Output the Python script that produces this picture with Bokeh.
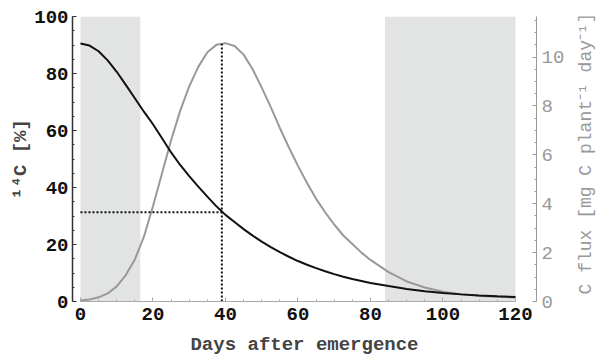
import math
from bokeh.plotting import figure
from bokeh.layouts import row
from bokeh.models import Range1d, LinearAxis, SingleIntervalTicker, Label
from bokeh.embed import file_html
from bokeh.resources import INLINE

# Data
days = [0, 2.5, 5, 7.5, 10, 12.5, 15, 17.5, 20, 22.5, 25, 27.5, 30, 32.5, 35,
        37.5, 40, 42.5, 45, 47.5, 50, 52.5, 55, 57.5, 60, 62.5, 65, 67.5, 70,
        72.5, 75, 77.5, 80, 85, 90, 95, 100, 105, 110, 115, 120]
c14_pct = [90.5, 89.8, 87.8, 84.6, 80.6, 76.0, 71.3, 66.6, 62.2, 57.3, 52.3,
           47.9, 44.0, 40.3, 36.8, 33.4, 30.4, 27.9, 25.4, 23.1, 21.0, 19.1,
           17.3, 15.7, 14.2, 12.9, 11.7, 10.6, 9.6, 8.7, 7.9, 7.2, 6.5, 5.4,
           4.4, 3.6, 3.0, 2.5, 2.1, 1.8, 1.6]
c_flux = [0.04, 0.08, 0.17, 0.33, 0.62, 1.08, 1.72, 2.65, 3.9, 5.25, 6.6, 7.8,
          8.8, 9.6, 10.2, 10.5, 10.57, 10.45, 10.1, 9.5, 8.75, 7.95, 7.1, 6.3,
          5.55, 4.85, 4.2, 3.65, 3.15, 2.7, 2.35, 2.0, 1.7, 1.2, 0.82, 0.57,
          0.4, 0.3, 0.23, 0.19, 0.16]
shade_left = [0, 84]
shade_right = [16.5, 120]
marker_day = 39
marker_pct = 31.3
marker_flux = 10.55
right_label = "C flux [mg C plant⁻¹ day⁻¹]"

FONT = "Liberation Mono"
GRAY = "#999999"

p = figure(width=567, height=358, output_backend="svg", toolbar_location=None,
           x_range=Range1d(-2.2, 125.8), y_range=Range1d(0, 100),
           min_border_left=72, min_border_right=30, min_border_top=16,
           min_border_bottom=54)
p.outline_line_color = None
p.xgrid.visible = False
p.ygrid.visible = False
p.background_fill_color = "white"
p.border_fill_color = "white"
p.extra_y_ranges = {"flux": Range1d(0, 11.66)}

# shaded periods
p.quad(left=shade_left, right=shade_right, bottom=0, top=100,
       fill_color="#e2e3e3", line_color=None)

# curves
p.line(days, c_flux, y_range_name="flux", line_color=GRAY, line_width=2)
p.line(days, c14_pct, line_color="#111111", line_width=2)

# dotted guides
p.line([marker_day, marker_day], [0, marker_flux], y_range_name="flux",
       line_color="#111111", line_width=2, line_dash="2 2")
p.line([0, marker_day], [marker_pct, marker_pct],
       line_color="#111111", line_width=2, line_dash="2 2")

# axes
xa = p.xaxis[0]
xa.ticker = SingleIntervalTicker(interval=20, num_minor_ticks=4)
xa.bounds = (0, 120)
xa.axis_label = "Days after emergence"
xa.axis_label_text_font = FONT
xa.axis_label_text_font_style = "bold"
xa.axis_label_text_font_size = "19px"
xa.axis_label_standoff = 11
xa.major_label_text_font = FONT
xa.major_label_text_font_style = "bold"
xa.major_label_text_font_size = "19px"
xa.major_label_text_color = "#111111"
xa.major_label_standoff = 6
xa.axis_line_color = "#aaaaaa"
xa.major_tick_line_color = "#aaaaaa"
xa.minor_tick_line_color = "#aaaaaa"
xa.major_tick_in = 4
xa.major_tick_out = 0
xa.minor_tick_in = 2
xa.minor_tick_out = 0

ya = p.yaxis[0]
ya.ticker = SingleIntervalTicker(interval=20, num_minor_ticks=4)
ya.axis_label = "¹⁴C [%]"
ya.axis_label_text_font = FONT
ya.axis_label_text_font_style = "bold"
ya.axis_label_text_font_size = "19px"
ya.axis_label_standoff = -1
ya.major_label_text_font = FONT
ya.major_label_text_font_style = "bold"
ya.major_label_text_font_size = "19px"
ya.major_label_text_color = "#111111"
ya.major_label_standoff = 4
ya.axis_line_color = "#333333"
ya.axis_line_width = 1.5
ya.major_tick_line_color = "#333333"
ya.minor_tick_line_color = "#333333"
ya.major_tick_in = 4
ya.major_tick_out = 0
ya.minor_tick_in = 2
ya.minor_tick_out = 0

ra = LinearAxis(y_range_name="flux",
                ticker=SingleIntervalTicker(interval=2, num_minor_ticks=4))
ra.major_label_text_font = FONT
ra.major_label_text_font_size = "19px"
ra.major_label_text_color = GRAY
ra.major_label_standoff = 5
ra.axis_line_color = GRAY
ra.major_tick_line_color = GRAY
ra.minor_tick_line_color = GRAY
ra.major_tick_in = 4
ra.major_tick_out = 0
ra.minor_tick_in = 2
ra.minor_tick_out = 0
p.add_layout(ra, "right")

# narrow strip holding the right-hand axis title (reads bottom to top)
p2 = figure(width=30, height=358, output_backend="svg", toolbar_location=None,
            x_range=Range1d(0, 30), y_range=Range1d(0, 358),
            min_border=0)
p2.axis.visible = False
p2.grid.visible = False
p2.outline_line_color = None
p2.background_fill_color = "white"
p2.border_fill_color = "white"
p2.add_layout(Label(x=18, y=186, text=right_label, angle=math.pi / 2,
                    text_align="center", text_baseline="middle",
                    text_font=FONT, text_font_size="18px", text_color=GRAY))

layout = row(p, p2, spacing=0)
open("out.html", "w").write(file_html(layout, INLINE))
